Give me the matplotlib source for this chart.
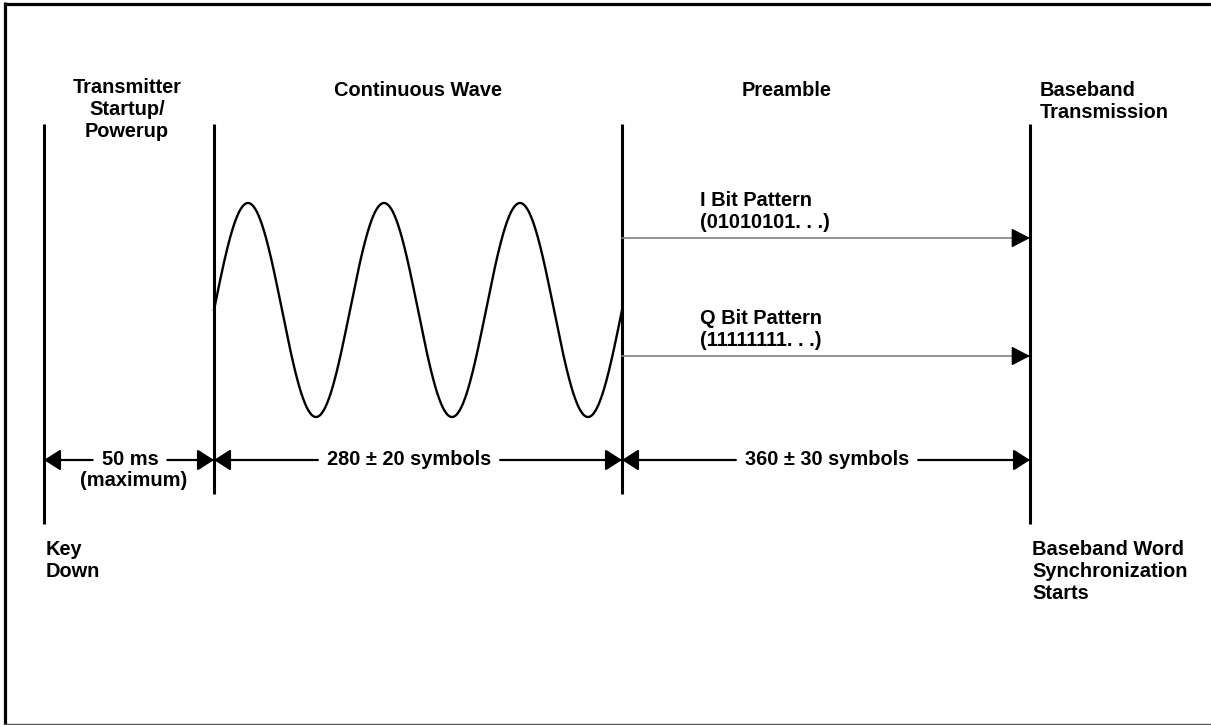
import numpy as np
import matplotlib
matplotlib.use("Agg")
import matplotlib.pyplot as plt

plt.rcParams['font.family'] = ['Liberation Sans', 'DejaVu Sans']

# ---------------- data (diagram coordinates, y grows downward) ----------------
W, H = 1211, 725
boundary_x = [44, 214, 622, 1030]
boundary_top = 124
boundary_bottom = [524, 494, 494, 524]

phase_titles = ["Transmitter\nStartup/\nPowerup", "Continuous Wave", "Preamble",
                "Baseband\nTransmission"]
phase_title_x = [127, 418, 787, 1040]
phase_title_y = [78, 81, 81, 81]
phase_title_ha = ["center", "center", "center", "left"]

cw_cycles = 3
cw_center_y = 310
cw_amplitude = 107

bit_labels = ["I Bit Pattern\n(01010101. . .)", "Q Bit Pattern\n(11111111. . .)"]
bit_line_y = [238, 356]
bit_label_x = 700
bit_label_y = [191, 309]

dim_labels = ["50 ms", "280 \u00b1 20 symbols", "360 \u00b1 30 symbols"]
dim_label_x = [130, 409, 827]
dim_y = 460
dim_baseline = 465
dim_note = "(maximum)"
dim_note_x = 134
dim_note_baseline = 486

event_labels = ["Key\nDown", "Baseband Word\nSynchronization\nStarts"]
event_x = [46, 1032]
event_y = 540

FS = 14.4
# ---------------------------------------------------------------------------

fig = plt.figure(figsize=(W / 100, H / 100), dpi=100)
ax = fig.add_axes([0, 0, 1, 1])
ax.set_xlim(0, W)
ax.set_ylim(H, 0)
ax.axis("off")

# frame
ax.plot([4, W], [3.5, 3.5], color="black", lw=2.3, solid_capstyle="butt")
ax.plot([5, 5], [2, H], color="black", lw=2.3, solid_capstyle="butt")
ax.plot([4, W], [723.5, 723.5], color="#555555", lw=1.0)

# vertical event lines
for x, yb in zip(boundary_x, boundary_bottom):
    ax.plot([x, x], [boundary_top, yb], color="black", lw=2.2, solid_capstyle="butt")

# phase titles
for t, x, y, ha in zip(phase_titles, phase_title_x, phase_title_y, phase_title_ha):
    ax.text(x, y, t, ha=ha, va="top", fontsize=FS, fontweight="bold",
            linespacing=1.2)

# continuous wave
x0, x1 = boundary_x[1], boundary_x[2]
xs = np.linspace(x0, x1, 800)
ys = cw_center_y - cw_amplitude * np.sin(2 * np.pi * cw_cycles * (xs - x0) / (x1 - x0))
ax.plot(xs, ys, color="black", lw=1.7)

# I / Q bit pattern arrows
head_len = 16
for y, lab, ly in zip(bit_line_y, bit_labels, bit_label_y):
    ax.plot([boundary_x[2], boundary_x[3] - head_len], [y, y], color="#808080", lw=1.2)
    ax.annotate("", xy=(boundary_x[3], y), xytext=(boundary_x[3] - head_len, y),
                arrowprops=dict(arrowstyle="-|>,head_length=0.58,head_width=0.3",
                                mutation_scale=20, color="black", lw=1.0,
                                shrinkA=0, shrinkB=0))
    ax.text(bit_label_x, ly, lab, ha="left", va="top", fontsize=FS,
            fontweight="bold", linespacing=1.2)

# dimension lines
fig.canvas.draw()
renderer = fig.canvas.get_renderer()
inv = ax.transData.inverted()
pad = 9
arrow_style = "-|>,head_length=0.5,head_width=0.32"
for i, (lab, cx) in enumerate(zip(dim_labels, dim_label_x)):
    t = ax.text(cx, dim_baseline, lab, ha="center", va="baseline", fontsize=FS,
                fontweight="bold")
    bb = t.get_window_extent(renderer)
    (lx, _), (rx, _) = inv.transform([[bb.x0, bb.y0], [bb.x1, bb.y0]])
    left_b, right_b = boundary_x[i], boundary_x[i + 1]
    ax.annotate("", xy=(left_b, dim_y), xytext=(lx - pad, dim_y),
                arrowprops=dict(arrowstyle=arrow_style, mutation_scale=20,
                                color="black", lw=1.6, shrinkA=0, shrinkB=0))
    ax.annotate("", xy=(right_b, dim_y), xytext=(rx + pad, dim_y),
                arrowprops=dict(arrowstyle=arrow_style, mutation_scale=20,
                                color="black", lw=1.6, shrinkA=0, shrinkB=0))

ax.text(dim_note_x, dim_note_baseline, dim_note, ha="center", va="baseline",
        fontsize=FS, fontweight="bold")

# event labels
for lab, x in zip(event_labels, event_x):
    ax.text(x, event_y, lab, ha="left", va="top", fontsize=FS, fontweight="bold",
            linespacing=1.2)

fig.savefig("out.png", dpi=100)
